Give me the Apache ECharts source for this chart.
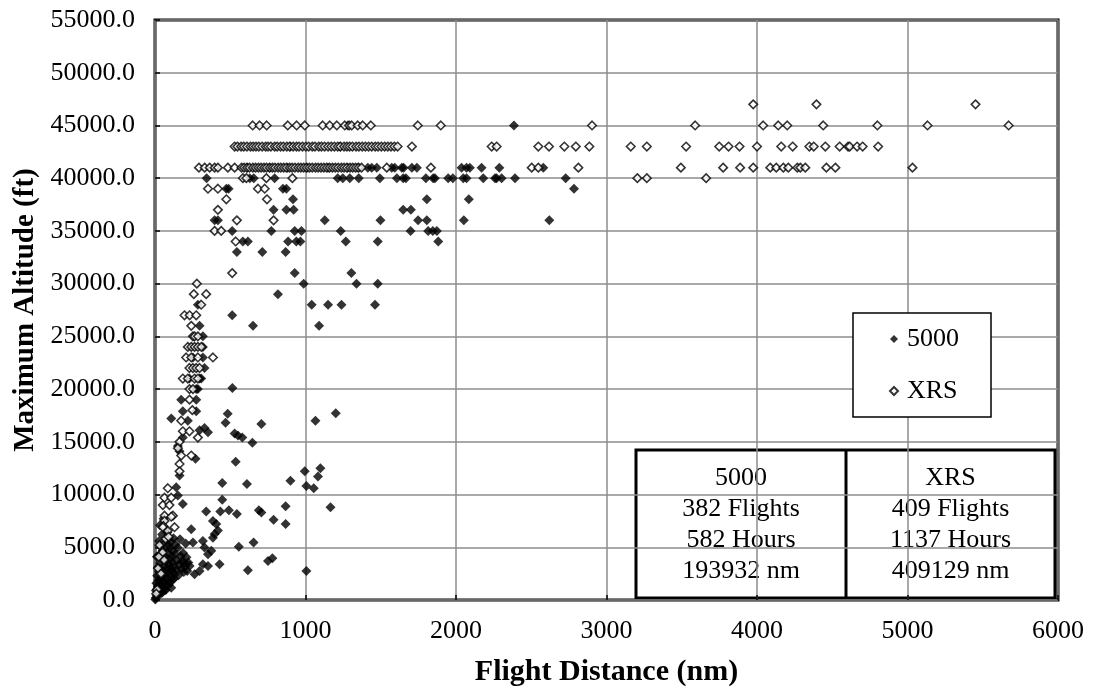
<!DOCTYPE html>
<html>
<head>
<meta charset="utf-8">
<script src="https://cdn.jsdelivr.net/npm/echarts@6/dist/echarts.min.js"></script>
<style>
html,body{margin:0;padding:0;background:#fff;}
#chart{width:1093px;height:692px;}
</style>
</head>
<body>
<div id="chart"></div>
<script>
// ---------- DATA ----------
const xTicks = [0, 1000, 2000, 3000, 4000, 5000, 6000];
const yTicks = [0, 5000, 10000, 15000, 20000, 25000, 30000, 35000, 40000, 45000, 50000, 55000];
const seriesNames = ['5000', 'XRS'];

// Global 5000 flights [distance nm, max altitude ft]
const g5000High = [
 [1281,45000],[2385,45000],[900,43000],[1230,43000],
 [612,41000],[760,41000],[880,41000],[1010,41000],[1150,41000],[1280,41000],[1350,41000],[1414,41000],[1440,41000],[1474,41000],[1573,41000],[1593,41000],[1640,41000],[1652,41000],[1707,41000],[1740,41000],[2037,41000],[2070,41000],[2092,41000],[2170,41000],[2288,41000],[2580,41000],
 [343,40000],[630,40000],[656,40000],[795,40000],[1214,40000],[1248,40000],[1294,40000],[1354,40000],[1494,40000],[1607,40000],[1649,40000],[1667,40000],[1800,40000],[1848,40000],[1860,40000],[1948,40000],[1979,40000],[2048,40000],[2070,40000],[2181,40000],[2259,40000],[2270,40000],[2303,40000],[2392,40000],[2729,40000]
];
const g5000Mid = [
 [474,39000],[489,39000],[850,39000],[873,39000],[2784,39000],
 [917,38000],[1806,38000],[2085,38000],
 [788,37000],[873,37000],[921,37000],[1649,37000],[1700,37000],
 [396,36000],[418,36000],[1128,36000],[1498,36000],[1748,36000],[1806,36000],[2052,36000],[2620,36000],
 [513,35000],[773,35000],[928,35000],[973,35000],[1234,35000],[1698,35000],[1815,35000],[1846,35000],[1873,35000],
 [584,34000],[617,34000],[884,34000],[939,34000],[966,34000],[1268,34000],[1480,34000],[1882,34000],
 [544,33000],[713,33000],[868,33000],
 [928,31000],[1305,31000],
 [988,30000],[1339,30000],[1480,30000],
 [817,29000],
 [285,28000],[1041,28000],[1150,28000],[1239,28000],[1462,28000],
 [513,27000],[296,26000],[651,26000],[1090,26000],
 [318,25000],[318,24000],[252,23000],[318,23000],[329,22000],
 [229,21000],[296,21000],[307,21000],
 [274,20000],[285,20000],[514,20100],
 [174,19000],[274,19000],[185,17900],[274,17900]
];
const g5000Low = [
 [1201,17700],[483,17650],[108,17200],[218,17000],[1066,17000],[469,16800],[707,16700],
 [329,16300],[352,15900],[296,16100],[529,15800],[551,15600],[580,15400],
 [647,14900],[152,14600],[163,14100],[185,15400],[269,13400],[536,13100],
 [995,12200],[1099,12500],[1083,11700],[900,11300],[447,11100],[611,11000],[1006,10800],[1055,10600],[163,11800],[141,10700],
 [152,9900],[447,9500],[185,9100],[868,8900],[1166,8800],[690,8500],[434,8400],[491,8500],[707,8300],[340,8400],[544,8150],[788,7600],[868,7200],
 [385,7500],[407,7200],[418,6600],[396,6250],[385,5900],[241,6700],
 [252,5450],[318,5600],[329,4970],[374,4660],[352,4340],[318,3390],[557,5040],[655,5450],[751,3710],[780,3960],[429,3390],[617,2820],[1006,2760],
 [352,3230],[296,2760],[263,2440],[230,3230],[196,3550],[108,1170]
];
const g5000Cluster = [
 [4,200],[6,900],[9,1600],[11,400],[14,2300],[16,1100],[19,3100],[21,650],[24,1900],[26,2700],[29,4300],[31,1050],[33,3500],[36,2100],[38,5100],[41,1450],[43,2900],[46,3900],[48,700],[51,4700],[53,2400],[56,1750],[58,3200],[61,5400],[63,950],[66,2600],[68,4100],[71,3700],[73,1350],[76,5700],[78,2150],[81,3000],[83,4500],[86,1950],[88,3400],[91,5200],[93,2650],[96,4900],[98,1650],[101,3850],[103,3050],[106,5550],[108,2250],[111,4150],[113,2750],[116,3550],[118,1950],[121,4650],[123,5850],[126,3150],[131,2450],[133,4350],[136,5250],[141,2850],[146,3750],[151,4950],[156,2350],[161,3350],[166,5750],[171,4150],[176,2950],[181,3650],[186,4450],[191,2650],[199,3150],[204,5350],[209,4050],[214,2750],[221,3550],[12,4100],[27,5600],[47,6200],[67,6700],[33,7100],[57,7700],[82,6400],[2,50],[18,1300],[37,600],[44,1850],[72,950],[92,1450],[128,2050]
];

// Global Express XRS flights [distance nm, max altitude ft]
const xrs4547 = [
 [3975,47000],[4395,47000],[5452,47000],
 [649,45000],[695,45000],[742,45000],[882,45000],[941,45000],[995,45000],[1114,45000],[1161,45000],[1208,45000],[1261,45000],[1290,45000],[1307,45000],[1347,45000],[1380,45000],[1434,45000],[1746,45000],[1899,45000],[2904,45000],[3589,45000],[4041,45000],[4141,45000],[4201,45000],[4440,45000],[4800,45000],[5133,45000],[5672,45000]
];
const xrs43Dist = [529,548,572,590,611,634,652,671,690,712,735,751,770,795,812,834,853,876,895,918,940,957,980,1002,1021,1045,1063,1088,1106,1127,1150,1171,1192,1214,1232,1256,1275,1293,1312,1336,1355,1377,1398,1419,1440,1463,1482,1504,1526,1547,1568,1590,1612,1707,2237,2270,2547,2618,2720,2796,2886,3161,3268,3529,3749,3811,3884,4000,4161,4237,4348,4377,4454,4549,4605,4616,4665,4702,4805];
const xrs41Dist = [292,330,363,396,418,484,529,575,592,611,628,650,668,687,705,724,741,762,780,797,818,836,855,873,894,911,930,951,969,988,1007,1026,1045,1066,1084,1103,1122,1141,1160,1179,1198,1217,1238,1256,1275,1296,1314,1333,1352,1372,1540,1833,2503,2547,2813,3494,3775,3888,3975,4088,4128,4175,4208,4268,4288,4321,4461,4521,5033];
const xrsOther = [
 [584,40000],[607,40000],[740,40000],[913,40000],[3205,40000],[3268,40000],[3662,40000],
 [352,39000],[418,39000],[684,39000],[729,39000],[474,38000],[744,38000],[418,37000],
 [544,36000],[788,36000],[396,35000],[440,35000],[536,34000],[513,31000],[278,30000],
 [258,29000],[340,29000],[307,28000],[196,27000],[230,27000],[274,27000],[241,26000],
 [252,25000],[263,25000],[285,25000],
 [218,24000],[241,24000],[263,24000],[285,24000],[308,24000],
 [207,23000],[241,23000],[285,23000],[385,23000],
 [229,22000],[252,22000],[274,22000],[296,22000],
 [185,21000],[218,21000],[263,21000],[285,21000],
 [229,20000],[252,20000],[229,19000],[248,18000],[174,17000],[185,16000],[229,16000],
 [285,15400],[163,15000],[152,14400],[241,13700],[174,13700],[163,12900],[163,12200],
 [85,10600],[63,9700],[108,9700],[52,9000],[96,9000],[63,8000],[119,8000],[108,7900],
 [63,7500],[56,7000],[52,6900],[130,6900],[85,6560],
 [30,5200],[50,4500],[20,3000],[70,5800],[15,1000],[40,2500],[60,3800],[8,600],[90,6000],[25,4100]
];

// summary table
const tblNames = ['5000', 'XRS'];
const tblFlights = [382, 409];
const tblHours = [582, 1137];
const tblNm = [193932, 409129];

// ---------- BUILD ----------
const data5000 = [].concat(g5000High, g5000Mid, g5000Low, g5000Cluster);
const dataXRS = [].concat(
  xrs4547,
  xrs43Dist.map(d => [d, 43000]),
  xrs41Dist.map(d => [d, 41000]),
  xrsOther
);

const FONT = '"Liberation Serif", "Times New Roman", serif';
const chart = echarts.init(document.getElementById('chart'), null, {renderer: 'canvas'});

const L = 155, R = 1058, T = 20, B = 600;
const tbl = {x: 636, y: 450, w: 419, h: 148, mid: 846};

function cellText(i) {
  return [tblNames[i], tblFlights[i] + ' Flights', tblHours[i] + ' Hours', tblNm[i] + ' nm'].join('\n');
}

const option = {
  animation: false,
  backgroundColor: '#fff',
  grid: {
    left: L, right: 1093 - R, top: T, bottom: 692 - B,
    show: true, borderColor: '#000', borderWidth: 3, backgroundColor: '#fff'
  },
  xAxis: {
    type: 'value', min: xTicks[0], max: xTicks[xTicks.length - 1], interval: 1000,
    axisLine: {show: false},
    axisTick: {show: true, inside: true, length: 5, lineStyle: {color: '#000', width: 1.5}},
    splitLine: {show: true, lineStyle: {color: '#8c8c8c', width: 1.5}},
    axisLabel: {fontFamily: FONT, fontSize: 26, color: '#000', margin: 18,
      formatter: v => String(v)},
    name: 'Flight Distance (nm)', nameLocation: 'middle', nameGap: 57,
    nameTextStyle: {fontFamily: FONT, fontSize: 30, fontWeight: 'bold', color: '#000'}
  },
  yAxis: {
    type: 'value', min: yTicks[0], max: yTicks[yTicks.length - 1], interval: 5000,
    axisLine: {show: false},
    axisTick: {show: true, inside: true, length: 5, lineStyle: {color: '#000', width: 1.5}},
    splitLine: {show: true, lineStyle: {color: '#8c8c8c', width: 1.5}},
    axisLabel: {fontFamily: FONT, fontSize: 26, color: '#000', margin: 20,
      formatter: v => v.toFixed(1)},
    name: 'Maximum Altitude (ft)', nameLocation: 'middle', nameGap: 112, nameRotate: 90,
    nameTextStyle: {fontFamily: FONT, fontSize: 29, fontWeight: 'bold', color: '#000'}
  },
  legend: {
    orient: 'vertical', left: 853, top: 313,
    padding: [13, 32, 13, 36], itemGap: 26, itemWidth: 8, itemHeight: 8,
    backgroundColor: '#fff', borderColor: '#000', borderWidth: 1.5,
    textStyle: {fontFamily: FONT, fontSize: 26, color: '#000', padding: [0, 0, 0, 4]},
    data: seriesNames
  },
  series: [
    {
      name: seriesNames[0], type: 'scatter', symbol: 'diamond', symbolSize: 10,
      itemStyle: {color: '#000'}, data: data5000, z: 3
    },
    {
      name: seriesNames[1], type: 'scatter', symbol: 'diamond', symbolSize: 8.5,
      itemStyle: {color: '#fff', borderColor: '#000', borderWidth: 1.6}, data: dataXRS, z: 4
    }
  ],
  graphic: [
    {
      type: 'group', z: 100, children: [
        {type: 'rect', shape: {x: tbl.x, y: tbl.y, width: tbl.w, height: tbl.h},
          style: {fill: '#fff', stroke: '#000', lineWidth: 3}},
        {type: 'line', shape: {x1: tbl.mid, y1: tbl.y, x2: tbl.mid, y2: tbl.y + tbl.h},
          style: {stroke: '#000', lineWidth: 3}},
        {type: 'text', x: (tbl.x + tbl.mid) / 2, y: tbl.y + tbl.h / 2 + 0.5,
          style: {text: cellText(0), font: '26px ' + FONT, fill: '#000', align: 'center', verticalAlign: 'middle', lineHeight: 31}},
        {type: 'text', x: (tbl.mid + tbl.x + tbl.w) / 2, y: tbl.y + tbl.h / 2 + 0.5,
          style: {text: cellText(1), font: '26px ' + FONT, fill: '#000', align: 'center', verticalAlign: 'middle', lineHeight: 31}}
      ]
    }
  ]
};
chart.setOption(option);
</script>
</body>
</html>
